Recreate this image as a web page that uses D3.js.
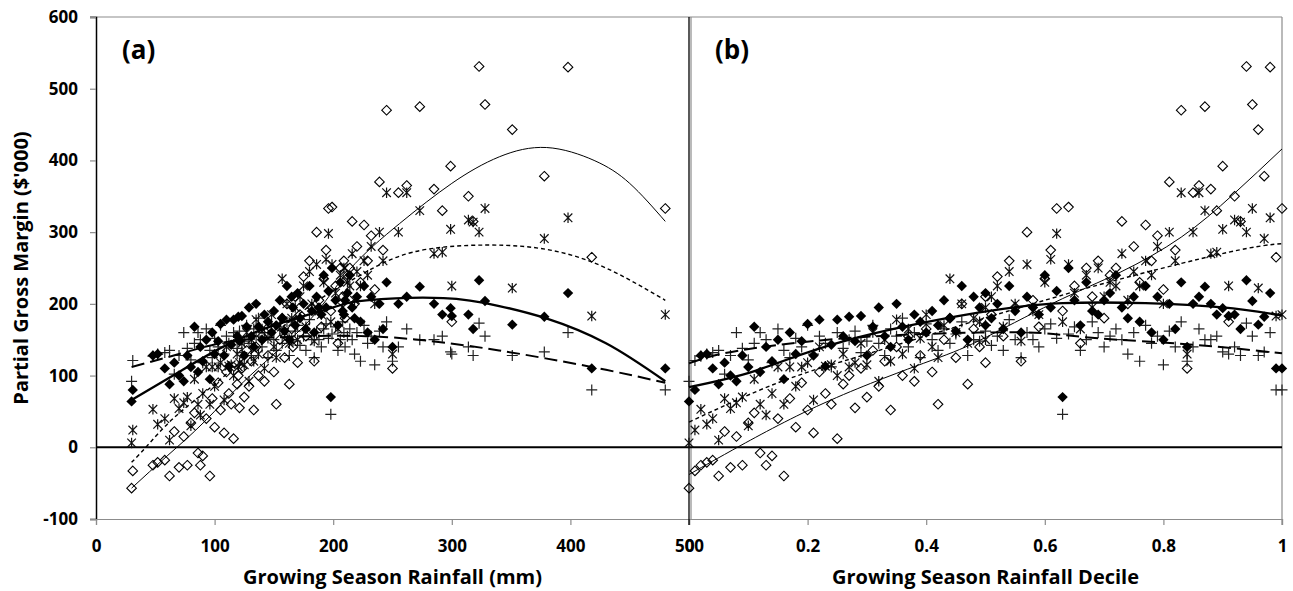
<!DOCTYPE html>
<html>
<head>
<meta charset="utf-8">
<script src="https://cdn.jsdelivr.net/npm/d3@7"></script>
<style>
  body { margin: 0; background: #fff; }
  text { font-family: "Open Sans", "DejaVu Sans", sans-serif; font-weight: bold; fill: #000; }
</style>
</head>
<body>
<div id="chart"></div>
<script>
// rainfall (mm) and its decile for each season
const rainfall = [30,31,48,52,58,62,66,
  70,74,77,80,83,86,88,90,93,96,98,100,103,105,108,110,112,114,116,119,
  120,121,123,125,127,129,131,133,135,137,140,142,145,148,150,152,155,157,159,161,163,165,
  166,168,170,172,175,177,180,182,184,186,188,190,192,194,196,198,199,202,204,206,208,209,210,212,
  214,216,218,220,223,226,229,232,235,239,242,245,250,
  255,262,273,285,292,299,300,314,318,323,328,351,378,398,418,480];

const decile = [0,.01,.02,.03,.04,.05,.06,.07,.08,.09,.10,.11,.12,.13,.14,.15,.16,.17,.18,.19,
  .20,.21,.22,.23,.24,.25,.26,.27,.28,.29,.30,.31,.32,.33,.34,.35,.36,.37,.38,.39,
  .40,.41,.42,.43,.44,.45,.46,.47,.48,.49,.50,.50,.51,.52,.53,.54,.55,.56,.57,.58,.59,
  .60,.61,.62,.63,.64,.65,.66,.67,.68,.69,.70,.71,.72,.73,.74,.75,.76,.77,.78,.79,
  .80,.81,.82,.83,.84,.85,.86,.87,.88,.89,.90,.91,.92,.93,.94,.95,.96,.97,.98,.99,1.00];

// partial gross margin ($'000), four strategies
const openDiamond = [-57,-33,-25,-21,-18,-40,22,
  -28,15,-25,34,48,-8,-25,-12,40,-40,68,28,90,52,20,105,75,60,12,88,
  100,55,110,70,135,85,120,52,140,100,155,92,128,165,105,60,150,180,125,200,88,165,
  140,210,118,185,238,155,260,195,120,300,205,168,235,275,333,190,335,225,145,250,210,260,180,240,
  250,315,200,280,230,310,260,295,220,370,275,470,110,
  355,365,475,360,330,392,175,350,315,531,478,443,378,530,265,333];

const asterisk = [6,24,53,32,40,10,68,
  54,62,70,30,95,60,45,75,112,60,112,85,112,118,66,140,113,115,100,130,
  112,118,145,115,160,92,150,120,178,130,165,110,152,185,140,125,170,235,160,200,145,180,
  175,195,150,210,225,168,245,200,148,255,190,185,230,262,298,175,255,215,165,240,195,250,210,230,
  225,270,205,245,225,260,240,280,200,300,260,355,130,
  300,355,330,270,272,304,225,317,314,300,333,222,291,320,183,185];

const filledDiamond = [64,80,128,130,110,88,118,
  100,92,128,112,168,105,140,120,150,95,160,130,148,172,128,178,113,143,178,155,
  182,148,183,128,168,195,155,140,200,168,150,185,175,160,190,170,205,180,162,225,150,210,
  195,170,215,180,200,165,225,190,160,210,195,185,240,195,218,70,250,205,170,230,190,185,205,215,
  240,195,180,210,175,225,160,210,150,200,165,230,140,
  200,210,224,200,185,194,183,185,165,233,204,171,182,215,110,110];

const plus = [92,121,127,130,132,135,102,
  128,160,138,122,145,160,150,118,165,135,125,152,140,170,130,155,145,112,160,138,
  150,162,132,148,170,145,128,165,155,180,140,160,125,172,150,135,165,145,158,175,128,150,
  148,162,170,142,155,135,178,150,125,160,150,140,165,172,152,46,158,168,135,150,175,160,140,155,
  165,150,130,160,120,170,145,155,115,162,140,175,120,
  140,165,150,150,155,133,130,140,128,173,155,128,133,160,80,80];

// trend lines, panel (a)
const trendA = {
  openDiamond:   { x: [30,60,91,130,180,214,256,300,340,380,420,450,480], y: [-57,-12,35,100,177,248,312,368,405,418,400,368,315] },
  asterisk:      { x: [30,42,65,100,150,190,223,267,330,383,430,480], y: [-21,0,40,88,158,208,240,272,282,275,250,205] },
  filledDiamond: { x: [30,70,107,150,200,228,293,340,379,430,480], y: [66,105,140,170,195,205,208,197,180,145,92] },
  plus:          { x: [30,70,107,150,228,298,340,379,430,480], y: [112,130,146,153,155,145,135,124,108,90] }
};
// trend lines, panel (b)
const trendB = {
  openDiamond:   { x: [0,.073,.226,.395,.49,.614,.727,.83,.917,1], y: [-38,-4,61,117,149,201,244,293,352,416] },
  asterisk:      { x: [0,.15,.3,.49,.6,.72,.91,1], y: [35,90,130,178,205,233,272,284] },
  filledDiamond: { x: [0,.113,.266,.49,.63,.77,.9,1], y: [84,107,149,188,201,201,195,184] },
  plus:          { x: [0,.085,.28,.49,.6,.69,.85,1], y: [117,135,153,160,159,152,143,131] }
};

const yTicks = [-100,0,100,200,300,400,500,600];
const xTicksA = [0,100,200,300,400,500];
const xTicksB = [0,0.2,0.4,0.6,0.8,1];

const width = 1293, height = 591;
const grey = "#8c8c8c";

const svg = d3.select("#chart").append("svg")
  .attr("width", width)
  .attr("height", height);

const y = d3.scaleLinear().domain([-100, 600]).range([519, 17]);
const xa = d3.scaleLinear().domain([0, 500]).range([96, 689]);
const xb = d3.scaleLinear().domain([0, 1]).range([689, 1282]);

// frame
svg.append("line").attr("x1", 90).attr("x2", 1282).attr("y1", y(600)).attr("y2", y(600))
  .attr("stroke", grey).attr("stroke-width", 1.2);
svg.append("line").attr("x1", 1282).attr("x2", 1282).attr("y1", y(600)).attr("y2", y(-100) + 6)
  .attr("stroke", grey).attr("stroke-width", 1.2);
svg.append("line").attr("x1", 691).attr("x2", 691).attr("y1", y(600)).attr("y2", y(-100))
  .attr("stroke", grey).attr("stroke-width", 1.2);

// y axis
const yAxis = svg.append("g")
  .attr("transform", "translate(96,0)")
  .call(d3.axisLeft(y).tickValues(yTicks).tickFormat(d => String(d)).tickSize(6).tickPadding(12));
yAxis.select(".domain").attr("stroke", "#000").attr("stroke-width", 1.5);
yAxis.selectAll(".tick line").attr("stroke", grey).attr("stroke-width", 1.2);
yAxis.selectAll("text").attr("font-size", "17px").attr("font-family", null);

// x axes
function bottomAxis(scale, ticks) {
  const g = svg.append("g")
    .attr("transform", "translate(0," + y(-100) + ")")
    .call(d3.axisBottom(scale).tickValues(ticks).tickFormat(d => String(d)).tickSize(6).tickPadding(15));
  g.select(".domain").attr("stroke", grey).attr("stroke-width", 1.2);
  g.selectAll(".tick line").attr("stroke", grey).attr("stroke-width", 1.2);
  g.selectAll("text").attr("font-size", "17px").attr("font-family", null);
  return g;
}
bottomAxis(xa, xTicksA);
bottomAxis(xb, xTicksB);

// divider (axis of panel b)
svg.append("line").attr("x1", 689).attr("x2", 689).attr("y1", y(600)).attr("y2", y(-100) + 6)
  .attr("stroke", "#000").attr("stroke-width", 1.3);

// zero line
svg.append("line").attr("x1", 96).attr("x2", 1282).attr("y1", y(0)).attr("y2", y(0))
  .attr("stroke", "#000").attr("stroke-width", 2);

// markers
const symbols = {
  plus: "M-5.5,0H5.5M0,-5.5V5.5",
  asterisk: "M-4.3,-4.3L4.3,4.3M-4.3,4.3L4.3,-4.3M0,-5.2V5.2",
  openDiamond: "M0,-4.8L4.8,0L0,4.8L-4.8,0Z",
  filledDiamond: "M0,-5.2L5.2,0L0,5.2L-5.2,0Z"
};
const seriesList = [
  { key: "plus", values: plus, fill: "none", stroke: "#222", sw: 1.2 },
  { key: "asterisk", values: asterisk, fill: "none", stroke: "#111", sw: 1.2 },
  { key: "openDiamond", values: openDiamond, fill: "none", stroke: "#000", sw: 1.1 },
  { key: "filledDiamond", values: filledDiamond, fill: "#000", stroke: "none", sw: 0 }
];

function drawPoints(xs, xScale) {
  seriesList.forEach(s => {
    svg.append("g").selectAll("path")
      .data(s.values.map((v, i) => ({ x: xs[i], y: v })))
      .enter().append("path")
      .attr("d", symbols[s.key])
      .attr("transform", d => "translate(" + xScale(d.x) + "," + y(d.y) + ")")
      .attr("fill", s.fill)
      .attr("stroke", s.stroke)
      .attr("stroke-width", s.sw);
  });
}
drawPoints(rainfall, xa);
drawPoints(decile, xb);

// trend lines
const lineStyles = {
  openDiamond:   { w: 1, dash: null },
  asterisk:      { w: 1.4, dash: "4,3" },
  filledDiamond: { w: 2.3, dash: null },
  plus:          { w: 2, dash: "13,6" }
};
function drawTrends(trend, xScale) {
  Object.keys(trend).forEach(k => {
    const t = trend[k];
    const pts = t.x.map((v, i) => [v, t.y[i]]);
    svg.append("path")
      .datum(pts)
      .attr("d", d3.line().x(d => xScale(d[0])).y(d => y(d[1])).curve(d3.curveNatural))
      .attr("fill", "none")
      .attr("stroke", "#000")
      .attr("stroke-width", lineStyles[k].w)
      .attr("stroke-dasharray", lineStyles[k].dash);
  });
}
drawTrends(trendA, xa);
drawTrends(trendB, xb);

// labels
svg.append("text").attr("x", 122).attr("y", 59).attr("font-size", "26px").text("(a)");
svg.append("text").attr("x", 715).attr("y", 59).attr("font-size", "26px").text("(b)");

svg.append("text")
  .attr("transform", "translate(28," + ((y(600) + y(-100)) / 2) + ") rotate(-90)")
  .attr("text-anchor", "middle")
  .attr("font-size", "20px")
  .text("Partial Gross Margin ($'000)");

svg.append("text")
  .attr("x", (96 + 689) / 2).attr("y", 584)
  .attr("text-anchor", "middle").attr("font-size", "20px")
  .text("Growing Season Rainfall (mm)");

svg.append("text")
  .attr("x", (689 + 1282) / 2).attr("y", 584)
  .attr("text-anchor", "middle").attr("font-size", "20px")
  .text("Growing Season Rainfall Decile");
</script>
</body>
</html>
